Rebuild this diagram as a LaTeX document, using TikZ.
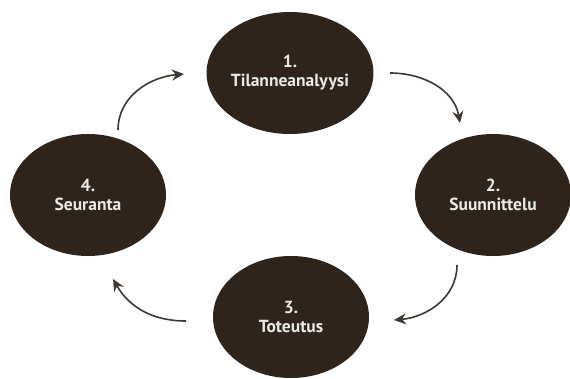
\documentclass[tikz,border=0pt]{standalone}
\usepackage{fontspec}
\setmainfont{PT Sans}
\usetikzlibrary{shapes}
\usetikzlibrary{arrows.meta}

\definecolor{phasebrown}{RGB}{46,36,27}
\definecolor{arrowgray}{RGB}{62,56,50}
\definecolor{labelwhite}{RGB}{236,234,230}

\begin{document}
\begin{tikzpicture}[x=1pt,y=-1pt]

\tikzstyle{phase}=[ellipse, minimum width=156pt, minimum height=122pt, inner sep=0pt, fill=phasebrown, text=labelwhite, align=center, font=\fontsize{17.5}{19}\selectfont\bfseries]
\tikzstyle{connect}=[-{Stealth[length=12pt,width=11pt]}, line width=1.6pt, draw=arrowgray]

\useasboundingbox (0,0) rectangle (570,378);

\node[phase] (tila) at (290,73)  {1.\\Tilanneanalyysi};
\node[phase] (suun) at (493,195) {2.\\Suunnittelu};
\node[phase] (tote) at (291,317) {3.\\Toteutus};
\node[phase] (seur) at (88,195)  {4.\\Seuranta};

\coordinate (a1s) at (390,73);
\coordinate (a1e) at (460,123);
\coordinate (a2s) at (457,265);
\coordinate (a2e) at (394,320);
\coordinate (a3s) at (186,321);
\coordinate (a3e) at (113,279);
\coordinate (a4s) at (118,130);
\coordinate (a4e) at (184,74);

\draw[connect] (a1s) to[out=0, in=100] (a1e);
\draw[connect] (a2s) to[out=-90, in=5] (a2e);
\draw[connect] (a3s) to[out=180, in=-60] (a3e);
\draw[connect] (a4s) to[out=90, in=185] (a4e);

\end{tikzpicture}
\end{document}
